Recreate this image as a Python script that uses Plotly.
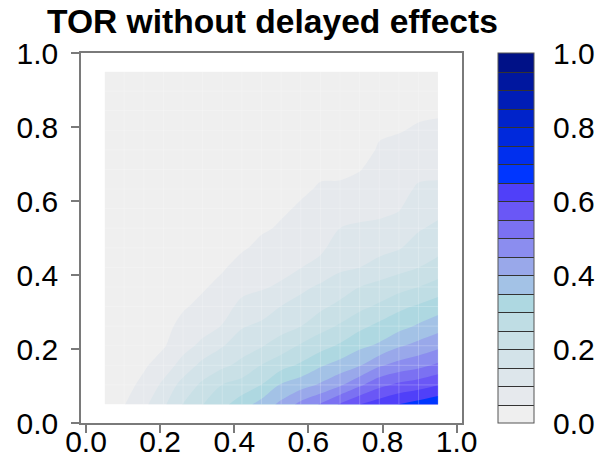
import plotly.graph_objects as go
import numpy as np

# grid coordinates (18 x 18)
x_grid = [0.05, 0.1029, 0.1559, 0.2088, 0.2618, 0.3147, 0.3676, 0.4206, 0.4735,
          0.5265, 0.5794, 0.6324, 0.6853, 0.7382, 0.7912, 0.8441, 0.8971, 0.95]
y_grid = [0.05, 0.1029, 0.1559, 0.2088, 0.2618, 0.3147, 0.3676, 0.4206, 0.4735,
          0.5265, 0.5794, 0.6324, 0.6853, 0.7382, 0.7912, 0.8441, 0.8971, 0.95]

# values per x column (bottom -> top)
col_00 = [0.010, 0.005, 0, 0, 0, 0, 0, 0, 0, 0, 0, 0, 0, 0, 0, 0, 0, 0]
col_01 = [0.048, 0.030, 0.020, 0.010, 0.005, 0, 0, 0, 0, 0, 0, 0, 0, 0, 0, 0, 0, 0]
col_02 = [0.088, 0.065, 0.042, 0.025, 0.015, 0.010, 0.005, 0, 0, 0, 0, 0, 0, 0, 0, 0, 0, 0]
col_03 = [0.141, 0.110, 0.076, 0.045, 0.035, 0.025, 0.015, 0.010, 0.005, 0, 0, 0, 0, 0, 0, 0, 0, 0]
col_04 = [0.203, 0.170, 0.117, 0.084, 0.064, 0.045, 0.035, 0.025, 0.015, 0.010, 0.005, 0, 0, 0, 0, 0, 0, 0]
col_05 = [0.249, 0.210, 0.166, 0.111, 0.083, 0.062, 0.045, 0.035, 0.025, 0.015, 0.010, 0.005, 0, 0, 0, 0, 0, 0]
col_06 = [0.286, 0.251, 0.189, 0.147, 0.102, 0.082, 0.063, 0.045, 0.035, 0.025, 0.015, 0.010, 0.005, 0, 0, 0, 0, 0]
col_07 = [0.328, 0.270, 0.214, 0.177, 0.146, 0.112, 0.087, 0.066, 0.045, 0.035, 0.025, 0.015, 0.010, 0.005, 0, 0, 0, 0]
col_08 = [0.370, 0.301, 0.252, 0.196, 0.160, 0.125, 0.095, 0.077, 0.060, 0.045, 0.035, 0.025, 0.015, 0.010, 0.005, 0, 0, 0]
col_09 = [0.413, 0.356, 0.281, 0.224, 0.180, 0.151, 0.107, 0.086, 0.070, 0.054, 0.045, 0.035, 0.025, 0.015, 0.010, 0.005, 0, 0]
col_10 = [0.466, 0.379, 0.308, 0.256, 0.199, 0.170, 0.138, 0.099, 0.084, 0.069, 0.054, 0.045, 0.035, 0.025, 0.015, 0.010, 0.005, 0]
col_11 = [0.505, 0.407, 0.344, 0.281, 0.232, 0.189, 0.158, 0.115, 0.091, 0.079, 0.066, 0.053, 0.045, 0.035, 0.025, 0.015, 0.010, 0.005]
col_12 = [0.557, 0.443, 0.369, 0.307, 0.256, 0.214, 0.174, 0.142, 0.121, 0.100, 0.079, 0.058, 0.040, 0.035, 0.025, 0.015, 0.010, 0.005]
col_13 = [0.600, 0.491, 0.396, 0.339, 0.287, 0.237, 0.200, 0.150, 0.128, 0.106, 0.086, 0.067, 0.048, 0.035, 0.025, 0.018, 0.010, 0.005]
col_14 = [0.627, 0.536, 0.443, 0.358, 0.313, 0.259, 0.215, 0.169, 0.134, 0.108, 0.091, 0.079, 0.066, 0.054, 0.045, 0.035, 0.025, 0.018]
col_15 = [0.652, 0.561, 0.468, 0.394, 0.333, 0.288, 0.232, 0.184, 0.146, 0.120, 0.097, 0.085, 0.072, 0.060, 0.048, 0.040, 0.030, 0.020]
col_16 = [0.670, 0.577, 0.485, 0.416, 0.357, 0.307, 0.250, 0.200, 0.171, 0.145, 0.125, 0.106, 0.088, 0.071, 0.054, 0.044, 0.035, 0.025]
col_17 = [0.690, 0.598, 0.509, 0.437, 0.380, 0.327, 0.271, 0.219, 0.185, 0.161, 0.135, 0.109, 0.089, 0.073, 0.058, 0.045, 0.035, 0.030]

columns = [col_00, col_01, col_02, col_03, col_04, col_05, col_06, col_07, col_08,
           col_09, col_10, col_11, col_12, col_13, col_14, col_15, col_16, col_17]
z = np.array(columns).T  # rows = y, cols = x

tick_vals = [0.0, 0.2, 0.4, 0.6, 0.8, 1.0]
band_colors = ["#EFEFEF", "#E6E9ED", "#DDE6EB", "#D3E3E9", "#C9E0E6", "#BFDDE4",
               "#AED8E1", "#A3C2E6", "#99A8EA", "#8B8DEF", "#7B71F2", "#6A57F6",
               "#5040F9", "#0036FF", "#002FEE", "#0029DC", "#0023CA", "#001DB6",
               "#00179F", "#001187"]
colorscale = [[k / (len(band_colors) - 1), c] for k, c in enumerate(band_colors)]

FONT = "Liberation Sans, Arial, Helvetica, sans-serif"
AXCOL = "#7a7a7a"
X_RANGE = [-0.0135, 1.0143]

contours = dict(start=0.05, end=0.95, size=0.05, coloring="fill")

fig = go.Figure()
fig.add_trace(go.Contour(
    x=x_grid, y=y_grid, z=z, colorscale=colorscale, zmin=0, zmax=1,
    autocontour=False, contours=dict(contours, showlines=False),
    line=dict(width=0), showscale=False, hoverinfo="skip"))

# faint seams between grid cells
sx, sy = [], []
for xv in x_grid:
    sx += [xv, xv, None]
    sy += [y_grid[0], y_grid[-1], None]
for yv in y_grid:
    sx += [x_grid[0], x_grid[-1], None]
    sy += [yv, yv, None]
fig.add_trace(go.Scatter(x=sx, y=sy, mode="lines", xaxis="x2", yaxis="y",
                         line=dict(color="rgba(255,255,255,0.22)", width=1),
                         hoverinfo="skip", showlegend=False))

# trace carrying the colour key (invisible in plot)
fig.add_trace(go.Contour(
    x=x_grid, y=y_grid, z=z, colorscale=colorscale, zmin=0, zmax=1,
    autocontour=False, contours=dict(contours, showlines=True),
    line=dict(width=1, color="#333333"), opacity=0, hoverinfo="skip",
    showscale=True,
    colorbar=dict(
        x=1.0953, xanchor="left", xpad=0, ypad=0, y=0.5, yanchor="middle",
        len=1, lenmode="fraction", thickness=36, thicknessmode="pixels",
        outlinewidth=1, outlinecolor="#555555",
        tickvals=tick_vals, tickformat=".1f", ticks="outside", ticklen=13,
        tickcolor="rgba(0,0,0,0)", tickfont=dict(size=30, color="black", family=FONT))))

axis_common = dict(
    showgrid=False, zeroline=False, showline=True, linecolor=AXCOL, linewidth=1.5,
    mirror=True, ticks="outside", ticklen=8, tickwidth=1.5, tickcolor=AXCOL,
    tickvals=tick_vals, tickformat=".1f",
    tickfont=dict(size=30, color="black", family=FONT))

fig.update_layout(
    width=606, height=463,
    margin=dict(l=81, r=144, t=53, b=40, autoexpand=False),
    paper_bgcolor="white", plot_bgcolor="white",
    font=dict(family=FONT, color="black"),
    title=dict(text="<b>TOR without delayed effects</b>",
               font=dict(size=33.6, color="black", family=FONT),
               x=47 / 606, xref="container", xanchor="left",
               y=0.98, yref="container", yanchor="top"),
    xaxis=dict(axis_common, range=X_RANGE, showticklabels=False),
    xaxis2=dict(overlaying="x", anchor="free", position=0.005, side="bottom",
                range=X_RANGE, tickvals=tick_vals, tickformat=".1f",
                showline=False, ticks="", showgrid=False, zeroline=False,
                tickfont=dict(size=30, color="black", family=FONT)),
    yaxis=dict(axis_common, range=[0, 1], ticklabelstandoff=7),
    showlegend=False,
)

fig.write_html("out.html", config={"displayModeBar": False},
               post_script="document.body.style.margin='0';document.body.style.padding='0';")
